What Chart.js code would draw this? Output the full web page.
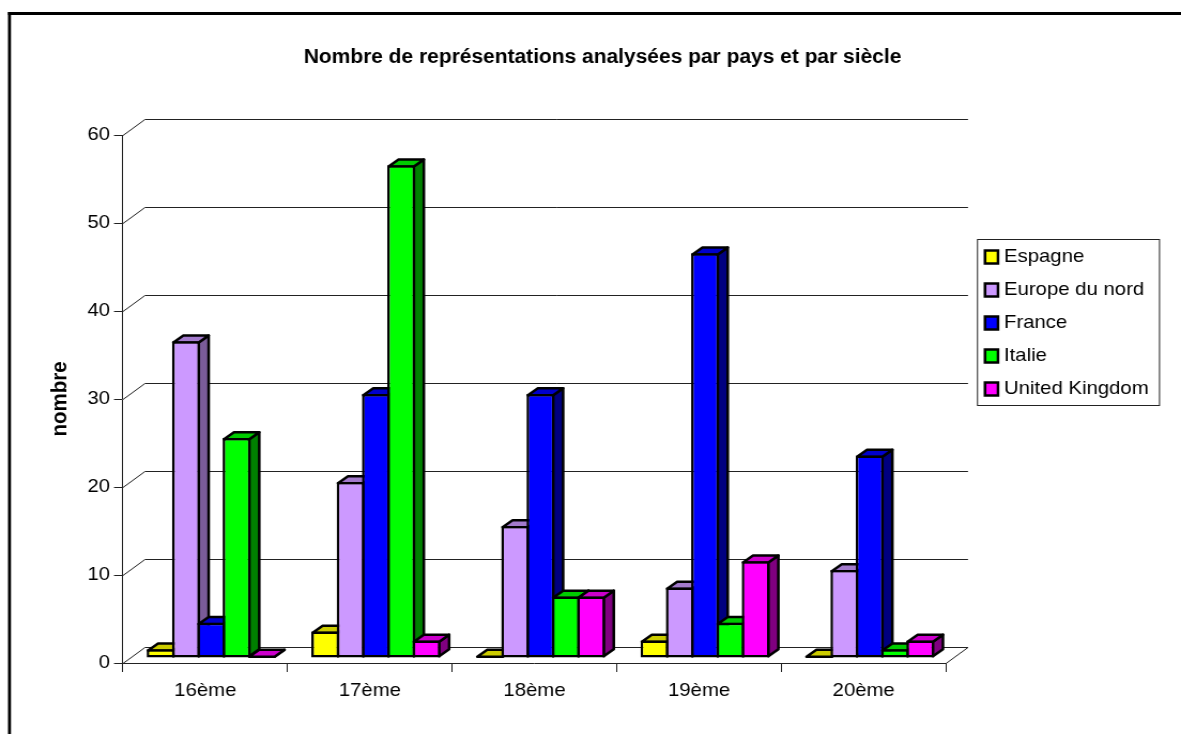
<!DOCTYPE html>
<html>
<head>
<meta charset="utf-8">
<style>
html, body { margin: 0; padding: 0; background: #fff; }
/* the reference is a picture stretched sideways, so the canvas is too */
canvas { display: block; width: 1181px !important; height: 734px !important; }
</style>
<script src="https://cdn.jsdelivr.net/npm/chart.js@4"></script>
</head>
<body>
<canvas id="mainChart" width="1104" height="734"></canvas>
<script>
let categories = ['16ème', '17ème', '18ème', '19ème', '20ème'];
let espagne = [1, 3, 0, 2, 0];
let europeDuNord = [36, 20, 15, 8, 10];
let france = [4, 30, 30, 46, 23];
let italie = [25, 56, 7, 4, 1];
let unitedKingdom = [0, 2, 7, 11, 2];

let seriesNames = ['Espagne', 'Europe du nord', 'France', 'Italie', 'United Kingdom'];
let seriesValues = [espagne, europeDuNord, france, italie, unitedKingdom];
let frontColors = ['#ffff00', '#cc99ff', '#0000ff', '#00ff00', '#ff00ff'];
let topColors = ['#cccc00', '#a37acc', '#0000cc', '#00cc00', '#cc00cc'];
let sideColors = ['#808000', '#7a5c99', '#000080', '#008000', '#800080'];

let fontName = '"Liberation Sans", Arial, sans-serif';
let outline = 2.5;

// screen x to canvas x
function px(v) {
    return v * 1104 / 1181;
}

// walls and floor behind the bars, taken from the y scale
let wallsPlugin = {
    id: 'walls',
    beforeDraw: function(chart) {
        let ctx = chart.ctx;
        let y = chart.scales.y;
        let left = chart.chartArea.left, right = chart.chartArea.right;
        ctx.save();
        ctx.fillStyle = '#fff';
        ctx.fillRect(0, 0, chart.width, chart.height);
        ctx.fillStyle = '#000';
        ctx.fillRect(px(8), 12, px(3), chart.height);
        ctx.fillRect(px(8), 12, chart.width, 3);
        ctx.strokeStyle = '#222';
        ctx.lineWidth = 1;
        y.ticks.forEach(function(t) {
            let py = Math.round(y.getPixelForValue(t.value)) + 0.5;
            ctx.beginPath();
            ctx.moveTo(left, py);
            ctx.lineTo(left + px(22), py - 16);
            ctx.lineTo(right + px(22), py - 16);
            if (t.value === 0) ctx.lineTo(right, py);
            ctx.stroke();
        });
        ctx.restore();
    }
};

// bars are native, the top and side faces go under each one.
// left series has to be painted first, so the loop replaces the default pass
let depthPlugin = {
    id: 'depth',
    beforeDatasetsDraw: function(chart) {
        let ctx = chart.ctx;
        let dx = px(10), dy = -7;
        let inset = outline / 2;
        ctx.save();
        ctx.translate(px(6), -5);
        seriesNames.forEach(function(name, i) {
            let meta = chart.getDatasetMeta(i);
            ctx.save();
            ctx.lineWidth = outline;
            ctx.lineJoin = 'round';
            ctx.strokeStyle = '#000';
            meta.data.forEach(function(bar) {
                let l = bar.x - bar.width / 2 + inset, r = bar.x + bar.width / 2 - inset;
                let t = Math.min(bar.y, bar.base - outline) + inset, b = bar.base - inset;
                ctx.fillStyle = sideColors[i];
                ctx.beginPath();
                ctx.moveTo(r, t);
                ctx.lineTo(r + dx, t + dy);
                ctx.lineTo(r + dx, b + dy);
                ctx.lineTo(r, b);
                ctx.closePath();
                ctx.fill();
                ctx.stroke();
                ctx.fillStyle = topColors[i];
                ctx.beginPath();
                ctx.moveTo(l, t);
                ctx.lineTo(l + dx, t + dy);
                ctx.lineTo(r + dx, t + dy);
                ctx.lineTo(r, t);
                ctx.closePath();
                ctx.fill();
                ctx.stroke();
            });
            ctx.restore();
            meta.controller.draw();
        });
        ctx.restore();
        return false;
    }
};

let legendPlugin = {
    id: 'sideLegend',
    afterDraw: function(chart) {
        let ctx = chart.ctx;
        ctx.save();
        ctx.strokeStyle = '#222';
        ctx.lineWidth = 1;
        ctx.fillStyle = '#fff';
        ctx.fillRect(px(977.5), 239.5, px(182), 166);
        ctx.strokeRect(px(977.5), 239.5, px(182), 166);
        ctx.font = '19px ' + fontName;
        ctx.textBaseline = 'middle';
        seriesNames.forEach(function(name, i) {
            let py = 256.5 + i * 33;
            ctx.fillStyle = frontColors[i];
            ctx.strokeStyle = '#000';
            ctx.lineWidth = outline;
            ctx.fillRect(px(985), py - 6, px(13), 13);
            ctx.strokeRect(px(985), py - 6, px(13), 13);
            ctx.fillStyle = '#000';
            ctx.fillText(name, px(1004), py + 0.5);
        });
        ctx.restore();
    }
};

let chartConfig = {
    type: 'bar',
    data: {
        labels: categories,
        datasets: seriesNames.map(function(name, i) {
            return {
                label: name,
                data: seriesValues[i],
                backgroundColor: frontColors[i],
                borderColor: '#000',
                borderWidth: outline,
                borderSkipped: false,
                inflateAmount: 0,
                categoryPercentage: 0.7685,
                barPercentage: 1.106
            };
        })
    },
    options: {
        responsive: false,
        animation: false,
        layout: { padding: { left: px(24), right: 0, top: 0, bottom: 0 } },
        plugins: {
            legend: { display: false },
            tooltip: { enabled: false },
            title: {
                display: true,
                text: 'Nombre de représentations analysées par pays et par siècle',
                color: '#000',
                font: { family: fontName, size: 19.6, weight: 'bold' },
                padding: { top: 46, bottom: 65.5 }
            }
        },
        scales: {
            x: {
                grid: { display: true, drawOnChartArea: false, tickLength: 9, color: '#222' },
                border: { color: '#222' },
                ticks: { color: '#000', padding: 7, font: { family: fontName, size: 19 }, maxRotation: 0 },
                afterFit: function(scale) { scale.height = 71; }
            },
            y: {
                min: 0,
                max: 60,
                grid: { display: true, drawOnChartArea: false, tickLength: px(9), color: '#222' },
                border: { color: '#222' },
                ticks: { stepSize: 10, color: '#000', padding: px(4), font: { family: fontName, size: 19 } },
                title: {
                    display: true,
                    text: 'nombre',
                    color: '#000',
                    font: { family: fontName, size: 20.5, weight: 'bold' },
                    padding: { top: px(23), bottom: 0 }
                },
                afterFit: function(scale) { scale.width = px(99); }
            },
            legendSpace: {
                position: 'right',
                display: true,
                grid: { display: false },
                border: { display: false },
                ticks: { display: false },
                afterFit: function(scale) { scale.width = px(235); }
            }
        }
    },
    plugins: [wallsPlugin, depthPlugin, legendPlugin]
};

window.onload = function() {
    let ctx = document.getElementById('mainChart').getContext('2d');
    window.myBars = new Chart(ctx, chartConfig);
};
</script>
</body>
</html>
